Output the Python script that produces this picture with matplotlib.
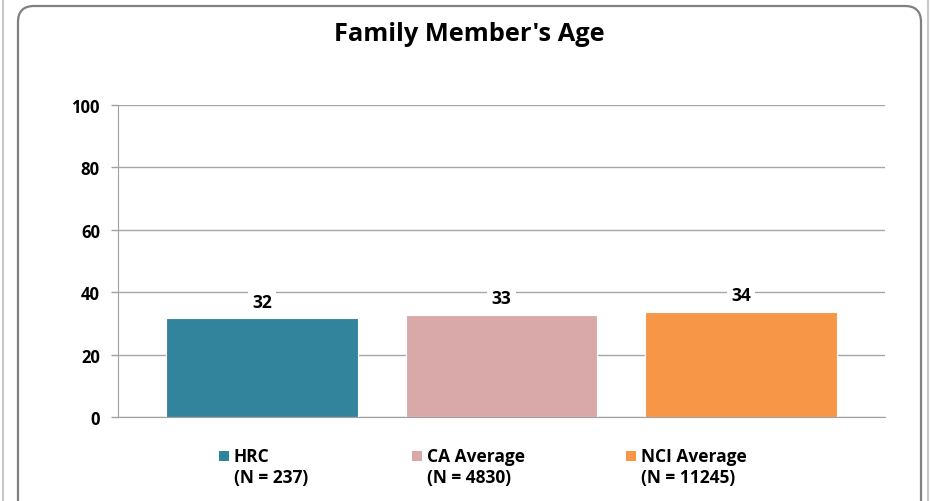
import matplotlib
matplotlib.use("Agg")
import matplotlib.pyplot as plt
from matplotlib.patches import FancyBboxPatch, Rectangle
from matplotlib.lines import Line2D

plt.rcParams['font.family'] = ['Open Sans', 'DejaVu Sans']
plt.rcParams['font.weight'] = 'bold'

# data
groups = ["HRC", "CA Average", "NCI Average"]
sizes = ["(N = 237)", "(N = 4830)", "(N = 11245)"]
ages = [31.6, 32.8, 33.7]
colors = ["#31849B", "#D9A9A9", "#F79646"]
yticks = [0, 20, 40, 60, 80, 100]

W, H = 931, 502
fig = plt.figure(figsize=(W / 100, H / 100), dpi=100)


def fx(px):
    return px / W


def fy(py):
    return 1 - py / H


# outer frame lines and rounded chart border
fig.add_artist(Line2D([fx(3), fx(3)], [0, 1], color="#C8C8C8", lw=1.5, zorder=-2))
fig.add_artist(Line2D([fx(928), fx(928)], [0, 1], color="#C8C8C8", lw=1.5, zorder=-2))
border = FancyBboxPatch((18, -20), 903, 515, boxstyle="round,pad=0,rounding_size=16",
                        transform=None, facecolor="white", edgecolor="#808080", lw=1.6, zorder=-1)
fig.add_artist(border)

ax = fig.add_axes([fx(118), fy(418), fx(885) - fx(118), fy(106) - fy(418)])
ax.set_facecolor("none")
x = range(len(groups))
ax.bar(x, ages, width=0.8, color=colors, edgecolor="white", linewidth=0.8, zorder=2)
for xi, v in zip(x, ages):
    ax.annotate("%d" % round(v), (xi, v), xytext=(0, 12), textcoords="offset points",
                ha="center", va="center", fontsize=12.5, fontweight="bold",
                bbox=dict(boxstyle="square,pad=0.25", fc="white", ec="none"), zorder=3)

ax.set_xlim(-0.6, 2.6)
ax.set_ylim(0, 100)
ax.set_yticks(yticks)
ax.set_xticks([])
ax.tick_params(axis="y", length=5, width=1, color="#A0A0A0", pad=8, labelsize=12)
for lab in ax.get_yticklabels():
    lab.set_fontweight("bold")
ax.grid(axis="y", color="#A6A6A6", lw=1, zorder=0)
ax.set_axisbelow(True)
for side in ["top", "right"]:
    ax.spines[side].set_visible(False)
ax.spines["left"].set_color("#A0A0A0")
ax.spines["bottom"].set_color("#A0A0A0")

fig.text(fx(469), fy(35), "Family Member's Age", ha="center", va="center",
         fontsize=18.3, fontweight="bold")

# legend under the bars
leg_sq = [219, 412, 626]
for sq, g, n, c in zip(leg_sq, groups, sizes, colors):
    fig.add_artist(Rectangle((sq, H - 462), 10, 10, transform=None, facecolor=c, edgecolor="none"))
    fig.text(fx(sq + 15), fy(457), g, ha="left", va="center", fontsize=12.5, fontweight="bold")
    fig.text(fx(sq + 15), fy(478), n, ha="left", va="center", fontsize=12.5, fontweight="bold")

fig.savefig("out.png", dpi=100)
